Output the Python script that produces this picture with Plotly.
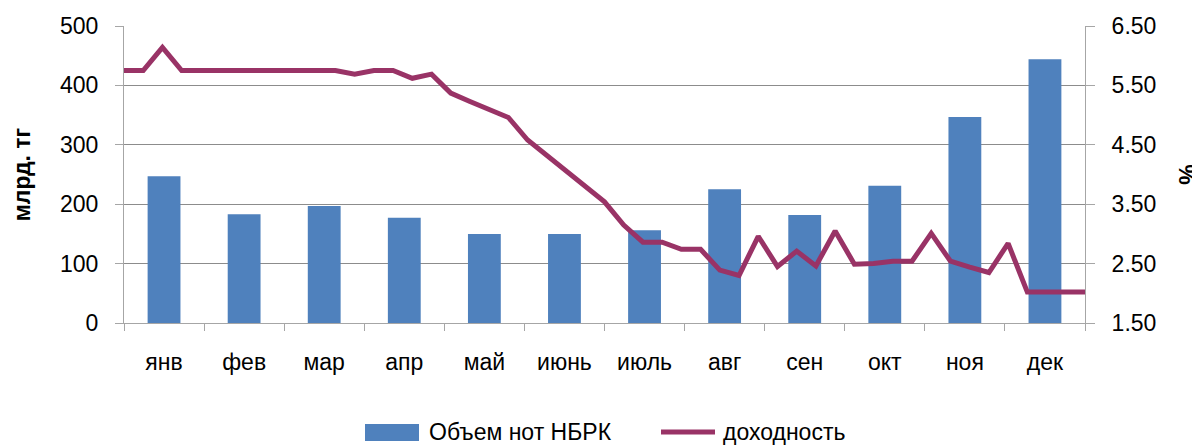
import plotly.graph_objects as go

months = ["янв", "фев", "мар", "апр", "май", "июнь", "июль", "авг", "сен", "окт", "ноя", "дек"]
volume = [247, 183, 197, 177, 150, 150, 156, 225, 182, 231, 347, 444]

# доходность, ~weekly observations across the year
yield_pct = [
    5.75, 5.75, 6.14, 5.75, 5.75, 5.75, 5.75, 5.75, 5.75, 5.75,
    5.75, 5.75, 5.69, 5.75, 5.75, 5.62, 5.69, 5.37, 5.23, 5.10,
    4.96, 4.58, 4.32, 4.06, 3.80, 3.54, 3.15, 2.86, 2.86, 2.74,
    2.74, 2.39, 2.30, 2.96, 2.45, 2.71, 2.46, 3.05, 2.49, 2.50,
    2.54, 2.54, 3.01, 2.54, 2.44, 2.35, 2.84, 2.02, 2.02, 2.02,
    2.02,
]
yield_idx = list(range(len(yield_pct)))

left_ticks = [0, 100, 200, 300, 400, 500]
right_ticks = [1.5, 2.5, 3.5, 4.5, 5.5, 6.5]

BAR_NAME = "Объем нот НБРК"
LINE_NAME = "доходность"
BAR_COLOR = "#4F81BD"
LINE_COLOR = "#993366"

FONT = "Liberation Sans, Arial, sans-serif"
FS = 23

W, H = 1200, 445
ML, MR, MT, MB = 116, 123, 18, 130
PW, PH = W - ML - MR, H - MT - MB


def px(x):
    return (x - ML) / PW


def py(y):
    return (MT + PH - y) / PH


fig = go.Figure()
fig.add_trace(go.Bar(
    x=months, y=volume, name=BAR_NAME,
    marker=dict(color=BAR_COLOR, line=dict(width=0)),
    xaxis="x", yaxis="y",
))
fig.add_trace(go.Scatter(
    x=yield_idx, y=yield_pct, name=LINE_NAME, mode="lines",
    line=dict(color=LINE_COLOR, width=5),
    xaxis="x2", yaxis="y2",
))

# legend drawn below the plot (swatches + text)
shapes = [
    dict(type="rect", xref="paper", yref="paper",
         x0=px(357), x1=px(411), y0=py(433), y1=py(416),
         fillcolor=BAR_COLOR, line=dict(width=0)),
    dict(type="line", xref="paper", yref="paper",
         x0=px(653), x1=px(707), y0=py(424), y1=py(424),
         line=dict(color=LINE_COLOR, width=5)),
]
annotations = [
    dict(text=BAR_NAME, xref="paper", yref="paper", x=px(419), y=py(424),
         xanchor="left", yanchor="middle", showarrow=False, font=dict(size=FS)),
    dict(text=LINE_NAME, xref="paper", yref="paper", x=px(713), y=py(424),
         xanchor="left", yanchor="middle", showarrow=False, font=dict(size=FS)),
]

fig.update_layout(
    width=W, height=H,
    margin=dict(l=ML, r=MR, t=MT, b=MB),
    paper_bgcolor="white", plot_bgcolor="white",
    font=dict(family=FONT, size=FS, color="black"),
    bargap=0.59,
    showlegend=False,
    shapes=shapes,
    annotations=annotations,
    xaxis=dict(
        type="category", range=[-0.5, 11.5], automargin=False,
        showline=True, linecolor="#a6a6a6", linewidth=1,
        ticks="outside", tickson="boundaries", ticklen=7, tickcolor="#a6a6a6",
        ticklabelstandoff=18,
        showgrid=False, zeroline=False,
        tickfont=dict(size=FS),
    ),
    xaxis2=dict(
        overlaying="x", range=[0, len(yield_pct) - 1], visible=False,
    ),
    yaxis=dict(
        range=[0, 500], tickmode="array", tickvals=left_ticks, automargin=False,
        showline=True, linecolor="#a6a6a6", linewidth=1,
        ticks="outside", ticklen=8, tickcolor="#a6a6a6",
        showgrid=True, gridcolor="#8c8c8c", gridwidth=1,
        zeroline=False,
        ticklabelstandoff=12,
        tickfont=dict(size=FS),
        title=dict(text="<b>млрд. тг</b>", font=dict(size=FS), standoff=22),
    ),
    yaxis2=dict(
        overlaying="y", side="right", range=[1.5, 6.5], automargin=False,
        tickmode="array", tickvals=right_ticks, tickformat=".2f",
        showline=True, linecolor="#a6a6a6", linewidth=1,
        ticks="outside", ticklen=9, tickcolor="#a6a6a6",
        showgrid=False, zeroline=False,
        ticklabelstandoff=12,
        tickfont=dict(size=FS),
        title=dict(text="<b>%</b>", font=dict(size=FS), standoff=24),
    ),
)

fig.write_html("out.html")
